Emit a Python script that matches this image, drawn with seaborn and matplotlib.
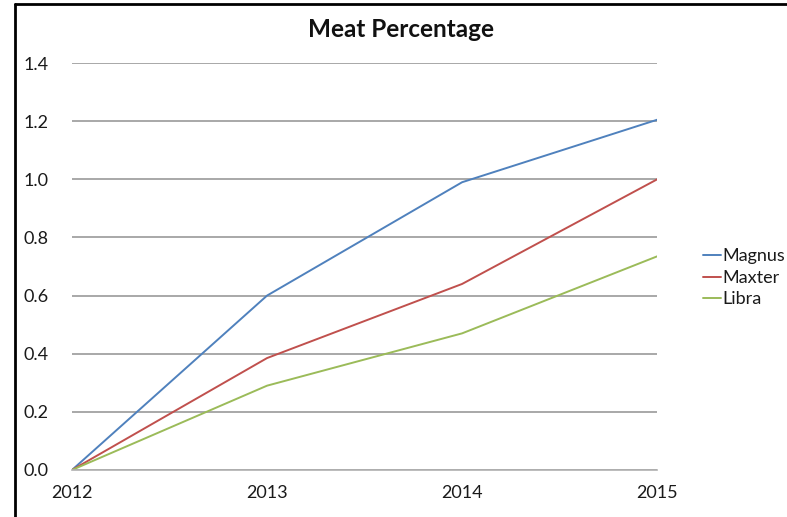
import pandas as pd
import matplotlib.pyplot as plt
import seaborn as sns
from matplotlib.lines import Line2D

# Chart values
years = [2012, 2013, 2014, 2015]
magnus = [0.0, 0.60, 0.99, 1.205]
maxter = [0.0, 0.385, 0.64, 1.0]
libra = [0.0, 0.29, 0.47, 0.735]
series_names = ['Magnus', 'Maxter', 'Libra']
colors = ['#4F81BD', '#C0504D', '#9BBB59']
y_ticks = [0.0, 0.2, 0.4, 0.6, 0.8, 1.0, 1.2, 1.4]

df = pd.DataFrame({
    'Year': years * 3,
    'Value': magnus + maxter + libra,
    'Series': [n for n in series_names for _ in years],
})

sns.set_theme(style="white")
plt.rcParams['font.family'] = ['Lato', 'DejaVu Sans']

fig = plt.figure(figsize=(7.87, 5.17), dpi=100)
ax = fig.add_axes([0.0915, 0.091, 0.7435, 0.787])

sns.lineplot(data=df, x='Year', y='Value', hue='Series', hue_order=series_names,
             palette=colors, linewidth=1.4, ax=ax)

ax.set_xlim(years[0], years[-1])
ax.set_ylim(0, 1.4)
ax.set_xticks(years)
ax.set_xticklabels([str(y) for y in years], fontsize=13, color='#1a1a1a')
ax.set_yticks(y_ticks)
ax.set_yticklabels([f'{v:.1f}' for v in y_ticks], fontsize=13, color='#1a1a1a')
ax.set_xlabel('')
ax.set_ylabel('')

# Excel-style gridlines and axis
ax.grid(axis='y', color='#9a9a9a', linewidth=1.2)
ax.set_axisbelow(True)
for side in ['left', 'right', 'top']:
    ax.spines[side].set_visible(False)
ax.spines['bottom'].set_color('#b0b0b0')
ax.spines['bottom'].set_linewidth(1.2)
ax.tick_params(axis='x', which='major', direction='inout', length=6, width=1,
               color='#9a9a9a', pad=8)
ax.tick_params(axis='y', length=0, pad=35)
for lbl in ax.get_yticklabels():
    lbl.set_horizontalalignment('left')

fig.text(0.51, 0.942, 'Meat Percentage', ha='center', va='center',
         fontsize=17.5, fontweight='bold', color='#111111')

leg = ax.legend(loc='center left', bbox_to_anchor=(1.066, 0.472), frameon=False,
                handlelength=1.0, handletextpad=0.05, labelspacing=0.3, fontsize=13,
                borderaxespad=0)
for t in leg.get_texts():
    t.set_color('#1a1a1a')

# partial frame like the screenshot
fig.add_artist(Line2D([0.019, 0.019], [0, 0.992], transform=fig.transFigure, color='black', lw=2))
fig.add_artist(Line2D([0.019, 1], [0.992, 0.992], transform=fig.transFigure, color='black', lw=2))

plt.savefig('out.png', dpi=100)
